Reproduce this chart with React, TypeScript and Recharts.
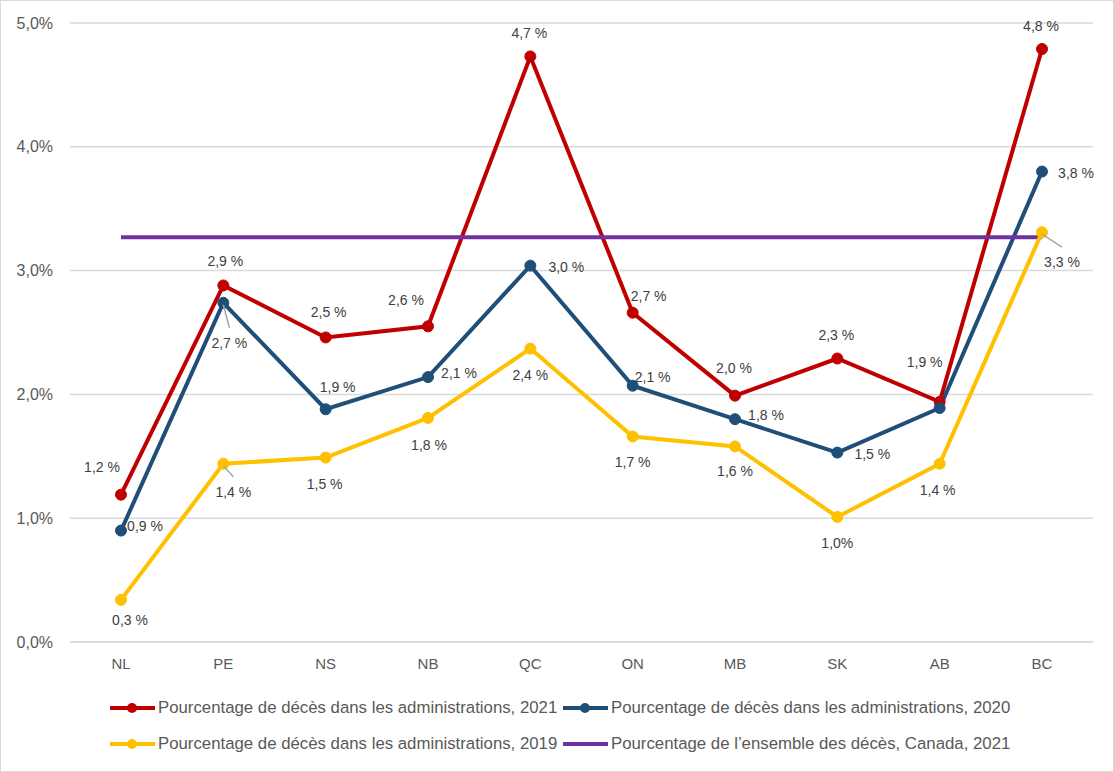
import { LineChart, Line, XAxis, YAxis, CartesianGrid, Legend, LabelList } from "recharts";

const provinces = ["NL", "PE", "NS", "NB", "QC", "ON", "MB", "SK", "AB", "BC"];
const deces2021 = [1.19, 2.88, 2.46, 2.55, 4.73, 2.66, 1.99, 2.29, 1.94, 4.79];
const deces2020 = [0.9, 2.74, 1.88, 2.14, 3.04, 2.07, 1.8, 1.53, 1.89, 3.8];
const deces2019 = [0.34, 1.44, 1.49, 1.81, 2.37, 1.66, 1.58, 1.01, 1.44, 3.31];
const canada2021 = [3.27, 3.27, 3.27, 3.27, 3.27, 3.27, 3.27, 3.27, 3.27, 3.27];

const labels2021 = ["1,2 %", "2,9 %", "2,5 %", "2,6 %", "4,7 %", "2,7 %", "2,0 %", "2,3 %", "1,9 %", "4,8 %"];
const labels2020 = ["0,9 %", "2,7 %", "1,9 %", "2,1 %", "3,0 %", "2,1 %", "1,8 %", "1,5 %", "", "3,8 %"];
const labels2019 = ["0,3 %", "1,4 %", "1,5 %", "1,8 %", "2,4 %", "1,7 %", "1,6 %", "1,0%", "1,4 %", "3,3 %"];
const yTicks = [0, 1, 2, 3, 4, 5];

const data = provinces.map((p, i) => ({
  province: p,
  d2021: deces2021[i],
  d2020: deces2020[i],
  d2019: deces2019[i],
  canada: canada2021[i],
}));

// label placement (dx, dy from the point), kept apart from the data
const off2021 = [[-19, -28], [2, -24], [3, -25], [-22, -26], [-1, -23], [16, -17], [-1, -28], [-1, -23], [-15, -40], [-1, -23]];
const off2020 = [[24, -5], [6, 40], [12, -22], [31, -4], [36, 1], [20, -9], [31, -4], [35, 1], [0, 0], [34, 1]];
const off2019 = [[9, 20], [10, 28], [-1, 26], [1, 27], [0, 26], [0, 26], [0, 25], [0, 26], [-2, 26], [20, 30]];
const noLeader = [false, false, false, false, false, false, false, false, false, false];
const leader2020 = [false, true, false, false, false, false, false, false, false, false];
const leader2019 = [false, true, false, false, false, false, false, false, false, true];

const font = "'Liberation Sans', Arial, sans-serif";

const series = [
  { key: "d2021", name: "Pourcentage de décès dans les administrations, 2021", color: "#c00000", dot: true },
  { key: "d2020", name: "Pourcentage de décès dans les administrations, 2020", color: "#1f4e79", dot: true },
  { key: "d2019", name: "Pourcentage de décès dans les administrations, 2019", color: "#ffc000", dot: true },
  { key: "canada", name: "Pourcentage de l’ensemble des décès, Canada, 2021", color: "#7030a0", dot: false },
];

const makeLabel = (texts: string[], offs: number[][], leaders: boolean[]) => (props: any) => {
  const { x, y, index } = props;
  const t = texts[index];
  if (!t) return null;
  const [dx, dy] = offs[index];
  const lx = x + dx;
  const ly = y + dy;
  return (
    <g key={`lbl-${index}`}>
      {leaders[index] && (
        <line x1={x} y1={y + 2} x2={lx} y2={ly - 15} stroke="#a6a6a6" strokeWidth={1.5} />
      )}
      <text x={lx} y={ly} textAnchor="middle" dominantBaseline="central" fontSize={14} fill="#404040" fontFamily={font}>
        {t}
      </text>
    </g>
  );
};

const renderLegend = () => (
  <div style={{ position: "relative", height: 72, fontFamily: font, fontSize: 16.8, color: "#595959" }}>
    {series.map((s, i) => (
      <div
        key={s.key}
        style={{
          position: "absolute",
          left: i % 2 ? 562 : 109,
          top: Math.floor(i / 2) * 36,
          height: 36,
          display: "flex",
          alignItems: "center",
          whiteSpace: "nowrap",
        }}
      >
        <svg width={45} height={12}>
          <line x1={0} y1={6} x2={45} y2={6} stroke={s.color} strokeWidth={4} />
          {s.dot && <circle cx={22} cy={6} r={5} fill={s.color} />}
        </svg>
        <span style={{ marginLeft: 3 }}>{s.name}</span>
      </div>
    ))}
  </div>
);

export default function App() {
  return (
    <div
      style={{
        position: "absolute",
        left: 0,
        top: 0,
        width: 1114,
        height: 772,
        boxSizing: "border-box",
        border: "1px solid #d9d9d9",
        background: "#fff",
      }}
    >
      <LineChart
        width={1112}
        height={770}
        data={data}
        margin={{ top: 22, right: 20, left: -1, bottom: 27 }}
      >
        <CartesianGrid vertical={false} stroke="#d9d9d9" strokeWidth={1.5} />
        <XAxis
          dataKey="province"
          padding={{ left: 51, right: 51 }}
          axisLine={{ stroke: "#d9d9d9", strokeWidth: 1.5 }}
          tickLine={false}
          tickSize={0}
          tickMargin={16}
          tick={{ fill: "#595959", fontSize: 15, fontFamily: font }}
        />
        <YAxis
          width={70}
          domain={[0, 5]}
          ticks={yTicks}
          axisLine={false}
          tickLine={false}
          tickSize={0}
          tickMargin={17}
          tickFormatter={(v: number) => v.toFixed(1).replace(".", ",") + "%"}
          tick={{ fill: "#595959", fontSize: 16, fontFamily: font }}
        />
        <Legend content={renderLegend} verticalAlign="bottom" wrapperStyle={{ left: 0, top: 689, width: 1112 }} />
        <Line
          dataKey="d2021"
          name={series[0].name}
          stroke="#c00000"
          strokeWidth={4}
          dot={{ r: 5.5, fill: "#c00000", stroke: "#c00000", strokeWidth: 1 }}
          activeDot={false}
          isAnimationActive={false}
        >
          <LabelList dataKey="d2021" content={makeLabel(labels2021, off2021, noLeader)} />
        </Line>
        <Line
          dataKey="d2020"
          name={series[1].name}
          stroke="#1f4e79"
          strokeWidth={4}
          dot={{ r: 5.5, fill: "#1f4e79", stroke: "#1f4e79", strokeWidth: 1 }}
          activeDot={false}
          isAnimationActive={false}
        >
          <LabelList dataKey="d2020" content={makeLabel(labels2020, off2020, leader2020)} />
        </Line>
        <Line
          dataKey="canada"
          name={series[3].name}
          stroke="#7030a0"
          strokeWidth={4}
          dot={false}
          activeDot={false}
          isAnimationActive={false}
        />
        <Line
          dataKey="d2019"
          name={series[2].name}
          stroke="#ffc000"
          strokeWidth={4}
          dot={{ r: 5.5, fill: "#ffc000", stroke: "#ffc000", strokeWidth: 1 }}
          activeDot={false}
          isAnimationActive={false}
        >
          <LabelList dataKey="d2019" content={makeLabel(labels2019, off2019, leader2019)} />
        </Line>
      </LineChart>
    </div>
  );
}
